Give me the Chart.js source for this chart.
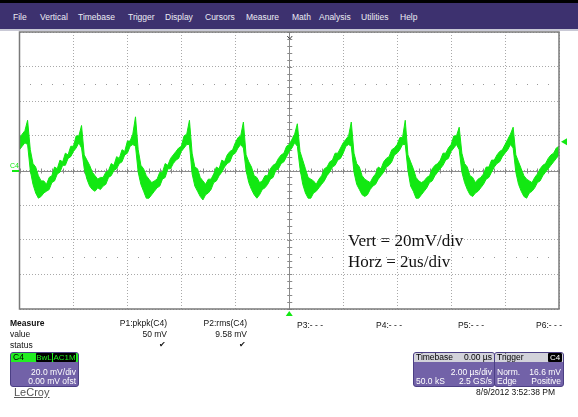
<!DOCTYPE html>
<html>
<head>
<meta charset="utf-8">
<script src="https://cdn.jsdelivr.net/npm/chart.js@4"></script>
<style>
html, body { margin: 0; padding: 0; background: #fff; }
#wrap { position: relative; width: 578px; height: 417px; overflow: hidden; font-family: "Liberation Sans", Arial, sans-serif; }
#scope { position: absolute; left: 0; top: 0; }
.menu { position: absolute; left: 0; top: 0; width: 578px; height: 29px; background: #3d316f; border-top: 3px solid #000; box-sizing: border-box; }
.menu span { position: absolute; top: 9px; font-size: 8.5px; color: #ececf4; }
.sep { position: absolute; left: 0; top: 29px; width: 578px; height: 2px; background: #c9c9d6; }
.t { position: absolute; font-size: 8.5px; line-height: 10px; color: #111; white-space: nowrap; }
.rt { text-align: right; }
.box { position: absolute; background: #7262a8; border: 1px solid #4b3f84; border-radius: 3px; overflow: hidden; }
.box .hd { position: absolute; left: 0; top: 0; right: 0; height: 9px; }
.box .t { color: #fff; }
.hd .t { color: #000; line-height: 9px; }
.tag { position: absolute; top: 0; height: 9px; background: #000; color: #22ee22; font-size: 8px; line-height: 9px; text-align: center; border-radius: 1px; }
</style>
</head>
<body>
<div id="wrap">
  <canvas id="scope" width="578" height="417"></canvas>
  <div class="menu">
    <span style="left:13px">File</span>
    <span style="left:40px">Vertical</span>
    <span style="left:78px">Timebase</span>
    <span style="left:128px">Trigger</span>
    <span style="left:165px">Display</span>
    <span style="left:205px">Cursors</span>
    <span style="left:246px">Measure</span>
    <span style="left:292px">Math</span>
    <span style="left:319px">Analysis</span>
    <span style="left:361px">Utilities</span>
    <span style="left:400px">Help</span>
  </div>
  <div class="sep"></div>

  <div class="t" style="left:10px;top:318px;font-weight:bold">Measure</div>
  <div class="t" style="left:10px;top:329px">value</div>
  <div class="t" style="left:10px;top:340px">status</div>

  <div class="t rt" style="right:411px;top:318px">P1:pkpk(C4)</div>
  <div class="t rt" style="right:411px;top:329px">50 mV</div>
  <div class="t rt" style="right:412px;top:340px;font-size:8px">&#10004;</div>
  <div class="t rt" style="right:331px;top:318px">P2:rms(C4)</div>
  <div class="t rt" style="right:331px;top:329px">9.58 mV</div>
  <div class="t rt" style="right:332px;top:340px;font-size:8px">&#10004;</div>
  <div class="t" style="left:297px;top:320px">P3:- - -</div>
  <div class="t" style="left:376px;top:320px">P4:- - -</div>
  <div class="t" style="left:458px;top:320px">P5:- - -</div>
  <div class="t" style="left:536px;top:320px">P6:- - -</div>

  <div class="box" style="left:10px;top:352px;width:67px;height:33px">
    <div class="hd" style="background:#22ee22">
      <div class="t" style="left:2px;top:0">C4</div>
      <div class="tag" style="left:25px;width:16px">BwL</div>
      <div class="tag" style="left:42px;width:23px">AC1M</div>
    </div>
    <div class="t rt" style="right:2px;top:14px">20.0 mV/div</div>
    <div class="t rt" style="right:2px;top:23px">0.00 mV ofst</div>
  </div>

  <div class="box" style="left:413px;top:352px;width:80px;height:33px">
    <div class="hd" style="background:#d2d2da">
      <div class="t" style="left:2px;top:0">Timebase</div>
      <div class="t rt" style="right:2px;top:0">0.00 µs</div>
    </div>
    <div class="t rt" style="right:2px;top:14px">2.00 µs/div</div>
    <div class="t" style="left:2px;top:23px">50.0 kS</div>
    <div class="t rt" style="right:2px;top:23px">2.5 GS/s</div>
  </div>

  <div class="box" style="left:494px;top:352px;width:68px;height:33px">
    <div class="hd" style="background:#d2d2da">
      <div class="t" style="left:2px;top:0">Trigger</div>
      <div class="tag" style="right:1px;width:14px;color:#fff">C4</div>
    </div>
    <div class="t" style="left:2px;top:14px">Norm.</div>
    <div class="t rt" style="right:2px;top:14px">16.6 mV</div>
    <div class="t" style="left:2px;top:23px">Edge</div>
    <div class="t rt" style="right:2px;top:23px">Positive</div>
  </div>

  <div class="t rt" style="right:23px;top:387px">8/9/2012 3:52:38 PM</div>
  <div class="t" style="left:14px;top:386px;font-size:11px;line-height:13px;color:#555;text-decoration:underline">LeCroy</div>
</div>

<script>
// C4 trace, sampled every 0.1 us from -10 us; band = upper/lower envelope of the noisy trace (mV)
const T_START_US = -10;
const SAMPLE_US = 0.1;
const upperMv = [
  19, 21, 23,
  29, 12, 4, 2, -3, -6, -6, -8, -4, -3, 2, 1, 6, 5, 10, 9, 14, 14, 20, 20,
  26, 9, 6, 3, -1, -3, -5, -4, -4, -1, 0, 4, 3, 8, 7, 12, 11, 17, 17, 21,
  31, 12, 3, 1, -3, -5, -7, -6, -5, -1, -1, 4, 3, 7, 9, 11, 13, 14, 20, 21,
  29, 10, 2, 1, -4, -6, -8, -5, -5, -2, 2, 1, 6, 5, 9, 11, 12, 16, 19, 20,
  28, 9, 5, 2, -3, -4, -7, -6, -3, -3, 1, 3, 4, 7, 9, 10, 14, 15, 18, 21,
  27, 11, 6, 1, -4, -5, -6, -8, -5, -3, 1, 2, 5, 6, 10, 10, 13, 16, 18, 20,
  28, 10, 4, 2, -3, -5, -6, -7, -4, -2, 2, 1, 5, 7, 8, 12, 13, 15, 19, 19,
  29, 9, 5, 1, -4, -6, -7, -6, -4, -3, 1, 3, 4, 6, 10, 10, 13, 15, 20, 20,
  25, 10, 4, 2, -3, -4, -7, -5, -4, -2, 2, 2, 6, 6, 9, 11, 12, 15, 18, 21,
  25, 9, 5, 1, -3, -5, -6, -7, -4, -2, 1, 3, 4, 7, 9, 10, 13, 14
];
const lowerMv = [
  12, 14, 16,
  15, 0, -8, -13, -16, -15, -13, -12, -11, -7, -6, -2, -1, 3, 3, 7, 8, 11, 13, 16,
  13, 1, -5, -9, -11, -12, -10, -11, -9, -8, -4, -3, 0, 1, 4, 5, 9, 10, 14, 15,
  14, -1, -8, -12, -16, -16, -14, -12, -10, -9, -5, -4, 1, 1, 4, 6, 7, 11, 13, 15,
  15, -2, -9, -12, -15, -17, -14, -13, -11, -7, -6, -3, -1, 2, 4, 5, 9, 10, 13, 15,
  13, 0, -7, -11, -14, -16, -14, -11, -10, -8, -5, -4, 0, 1, 4, 5, 8, 11, 13, 16,
  14, 1, -8, -13, -16, -16, -13, -12, -10, -8, -6, -3, -1, 2, 3, 6, 7, 10, 14, 15,
  14, -1, -8, -11, -14, -15, -14, -11, -9, -8, -5, -3, -1, 2, 3, 5, 9, 10, 12, 15,
  15, 0, -9, -12, -16, -16, -14, -12, -10, -7, -6, -3, -1, 1, 3, 6, 7, 11, 13, 15,
  12, -1, -7, -11, -14, -15, -13, -12, -10, -8, -5, -4, -1, 2, 4, 5, 8, 10, 12, 15,
  13, -1, -8, -12, -15, -16, -13, -12, -10, -7, -6, -3, -1, 1, 3, 5, 7, 9
];
const xDivUs = [-10, -8, -6, -4, -2, 0, 2, 4, 6, 8, 10];
const yDivMv = [-80, -60, -40, -20, 0, 20, 40, 60, 80];
const markerRowsMv = [50, -50];
const triggerLevelMv = 16.6;

const GREEN = '#12e812';
const GRID = '#a9a9a9';

const toPoints = arr => arr.map((v, i) => ({ x: T_START_US + i * SAMPLE_US, y: v }));

const scopeOverlay = {
    id: 'scopeOverlay',
    beforeDatasetsDraw(chart) {
        const { ctx, chartArea: a, scales: { x, y } } = chart;
        const x0 = x.getPixelForValue(0), y0 = y.getPixelForValue(0);
        ctx.save();
        // sparse dot rows
        ctx.fillStyle = '#9a9a9a';
        markerRowsMv.forEach(mv => {
            const py = Math.round(y.getPixelForValue(mv));
            for (let t = -10; t <= 10.001; t += 0.4) {
                if (Math.abs(t / 2 - Math.round(t / 2)) < 0.01) continue;
                ctx.fillRect(Math.round(x.getPixelForValue(t)), py, 1, 1);
            }
        });
        // centre axes with minor ticks
        ctx.strokeStyle = '#8a8a8a';
        ctx.lineWidth = 1;
        ctx.beginPath();
        ctx.moveTo(a.left, Math.round(y0) + 0.5); ctx.lineTo(a.right, Math.round(y0) + 0.5);
        ctx.moveTo(Math.round(x0) + 0.5, a.top); ctx.lineTo(Math.round(x0) + 0.5, a.bottom);
        for (let t = -10; t <= 10.001; t += 0.4) {
            const px = Math.round(x.getPixelForValue(t)) + 0.5;
            ctx.moveTo(px, y0 - 2); ctx.lineTo(px, y0 + 3);
        }
        for (let v = -80; v <= 80.001; v += 4) {
            const py = Math.round(y.getPixelForValue(v)) + 0.5;
            ctx.moveTo(x0 - 2, py); ctx.lineTo(x0 + 3, py);
        }
        ctx.stroke();
        ctx.restore();
    },
    afterDatasetsDraw(chart) {
        const { ctx, chartArea: a, scales: { x, y } } = chart;
        const x0 = x.getPixelForValue(0), y0 = y.getPixelForValue(0);
        ctx.save();
        // frame
        ctx.strokeStyle = '#7a7a7a';
        ctx.lineWidth = 1.5;
        ctx.strokeRect(a.left, a.top, a.right - a.left, a.bottom - a.top);
        // trigger delay arrow at top
        ctx.strokeStyle = '#444';
        ctx.lineWidth = 1;
        ctx.beginPath();
        ctx.moveTo(x0 - 2, a.top + 4); ctx.lineTo(x0 + 0.5, a.top + 7); ctx.lineTo(x0 + 3, a.top + 4);
        ctx.stroke();
        // C4 ground marker and label
        ctx.fillStyle = GREEN;
        ctx.fillRect(12, Math.round(y0) - 1, 7, 2);
        ctx.font = '7px "Liberation Sans", Arial, sans-serif';
        ctx.textBaseline = 'alphabetic';
        ctx.fillText('C4', 10, y0 - 3);
        // trigger level marker (right) and trigger time marker (bottom)
        const ty = y.getPixelForValue(triggerLevelMv);
        ctx.beginPath();
        ctx.moveTo(a.right + 2, ty); ctx.lineTo(a.right + 8, ty - 3.5); ctx.lineTo(a.right + 8, ty + 3.5);
        ctx.closePath(); ctx.fill();
        ctx.beginPath();
        ctx.moveTo(x0, a.bottom + 2); ctx.lineTo(x0 - 3.5, a.bottom + 7); ctx.lineTo(x0 + 3.5, a.bottom + 7);
        ctx.closePath(); ctx.fill();
        // annotation
        ctx.fillStyle = '#111';
        ctx.font = '17px "Liberation Serif", "Times New Roman", serif';
        ctx.fillText('Vert = 20mV/div', 348, 246);
        ctx.fillText('Horz = 2us/div', 348, 267);
        ctx.restore();
    }
};

new Chart(document.getElementById('scope'), {
    type: 'line',
    data: {
        datasets: [
            { data: toPoints(upperMv), borderColor: GREEN, borderWidth: 1, pointRadius: 0, tension: 0, fill: false },
            { data: toPoints(lowerMv), borderColor: GREEN, borderWidth: 1, pointRadius: 0, tension: 0, fill: '-1', backgroundColor: GREEN }
        ]
    },
    options: {
        responsive: false,
        animation: false,
        events: [],
        layout: { padding: { left: 19.5, top: 32, right: 19, bottom: 108 } },
        plugins: { legend: { display: false }, tooltip: { enabled: false } },
        scales: {
            x: {
                type: 'linear', min: -10, max: 10,
                afterBuildTicks: s => { s.ticks = xDivUs.map(v => ({ value: v })); },
                ticks: { display: false },
                grid: { color: GRID, drawTicks: false, lineWidth: 1 },
                border: { display: false, dash: [1, 2] }
            },
            y: {
                min: -80, max: 80,
                afterBuildTicks: s => { s.ticks = yDivMv.map(v => ({ value: v })); },
                ticks: { display: false },
                grid: { color: GRID, drawTicks: false, lineWidth: 1 },
                border: { display: false, dash: [1, 2] }
            }
        }
    },
    plugins: [scopeOverlay]
});
</script>
</body>
</html>
